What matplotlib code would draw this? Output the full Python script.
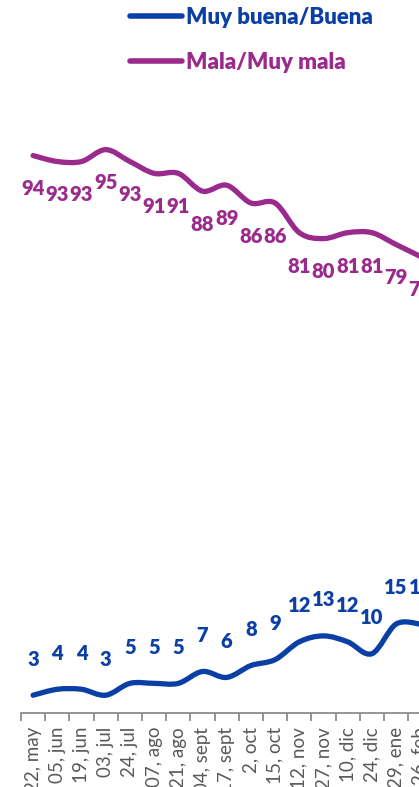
import matplotlib
matplotlib.use("Agg")
import matplotlib.pyplot as plt
from matplotlib.path import Path
from matplotlib.patches import PathPatch
from matplotlib.lines import Line2D
import numpy as np

plt.rcParams['font.family'] = ['Lato', 'DejaVu Sans']

categories = ["22, may", "05, jun", "19, jun", "03, jul", "24, jul", "07, ago",
              "21, ago", "04, sept", "17, sept", "2, oct", "15, oct", "12, nov",
              "27, nov", "10, dic", "24, dic", "29, ene", "26, feb"]
buena = [3, 4, 4, 3, 5, 5, 5, 7, 6, 8, 9, 12, 13, 12, 10, 15, 15]
mala = [94, 93, 93, 95, 93, 91, 91, 88, 89, 86, 86, 81, 80, 81, 81, 79, 77]

BLUE = "#0A3FA6"
PURPLE = "#9B2A8D"
GRAY = "#595959"

W, H = 419, 787
fig = plt.figure(figsize=(W / 100, H / 100), dpi=100)
ax_left = 21 / W
unit = 24.2
n = len(categories)
ax_w = n * unit / W
ax_bottom = (H - 713) / H
ax_h = 593 / H
ax = fig.add_axes([ax_left, ax_bottom, ax_w, ax_h])
ax.set_xlim(-0.5, n - 0.5)
ax.set_ylim(0, 100)


def smooth_path(xs, ys):
    pts = np.column_stack([xs, ys]).astype(float)
    verts = [pts[0]]
    codes = [Path.MOVETO]
    m = len(pts)
    for i in range(m - 1):
        p0 = pts[i - 1] if i > 0 else pts[i]
        p1 = pts[i]
        p2 = pts[i + 1]
        p3 = pts[i + 2] if i + 2 < m else pts[i + 1]
        c1 = p1 + (p2 - p0) / 6.0
        c2 = p2 - (p3 - p1) / 6.0
        verts += [c1, c2, p2]
        codes += [Path.CURVE4] * 3
    return Path(verts, codes)


x = np.arange(n)
for vals, col in [(mala, PURPLE), (buena, BLUE)]:
    patch = PathPatch(smooth_path(x, vals), facecolor="none", edgecolor=col,
                      lw=3.8, capstyle="round", joinstyle="round")
    patch.set_clip_on(False)
    ax.add_patch(patch)

for xi, v in zip(x, mala):
    ax.annotate(str(v), (xi, v), xytext=(0, -24), textcoords="offset points",
                ha="center", va="center", color=PURPLE, fontsize=14.5,
                fontweight="heavy", annotation_clip=False)
for xi, v in zip(x, buena):
    ax.annotate(str(v), (xi, v), xytext=(0, 26), textcoords="offset points",
                ha="center", va="center", color=BLUE, fontsize=14.5,
                fontweight="heavy", annotation_clip=False)

for s in ["top", "right", "left"]:
    ax.spines[s].set_visible(False)
ax.spines["bottom"].set_color("#8C8C8C")
ax.spines["bottom"].set_linewidth(1.3)
ax.set_yticks([])
ax.set_xticks(x)
ax.set_xticklabels(categories, rotation=90, fontsize=13.5, color=GRAY)
ax.tick_params(axis="x", which="major", length=0, pad=10)
ax.set_xticks(np.arange(n + 1) - 0.5, minor=True)
ax.tick_params(axis="x", which="minor", length=6, width=1.3, color="#8C8C8C")

handles = [Line2D([], [], color=BLUE, lw=4, solid_capstyle="round"),
           Line2D([], [], color=PURPLE, lw=4, solid_capstyle="round")]
leg = fig.legend(handles, ["Muy buena/Buena", "Mala/Muy mala"],
                 loc="upper left", bbox_to_anchor=(110 / W, 1 + 13 / H),
                 frameon=False, prop={"weight": "heavy", "size": 16},
                 handlelength=2.35, handletextpad=0.15, labelspacing=1.08,
                 labelcolor=[BLUE, PURPLE])

fig.savefig("out.png", dpi=100)
